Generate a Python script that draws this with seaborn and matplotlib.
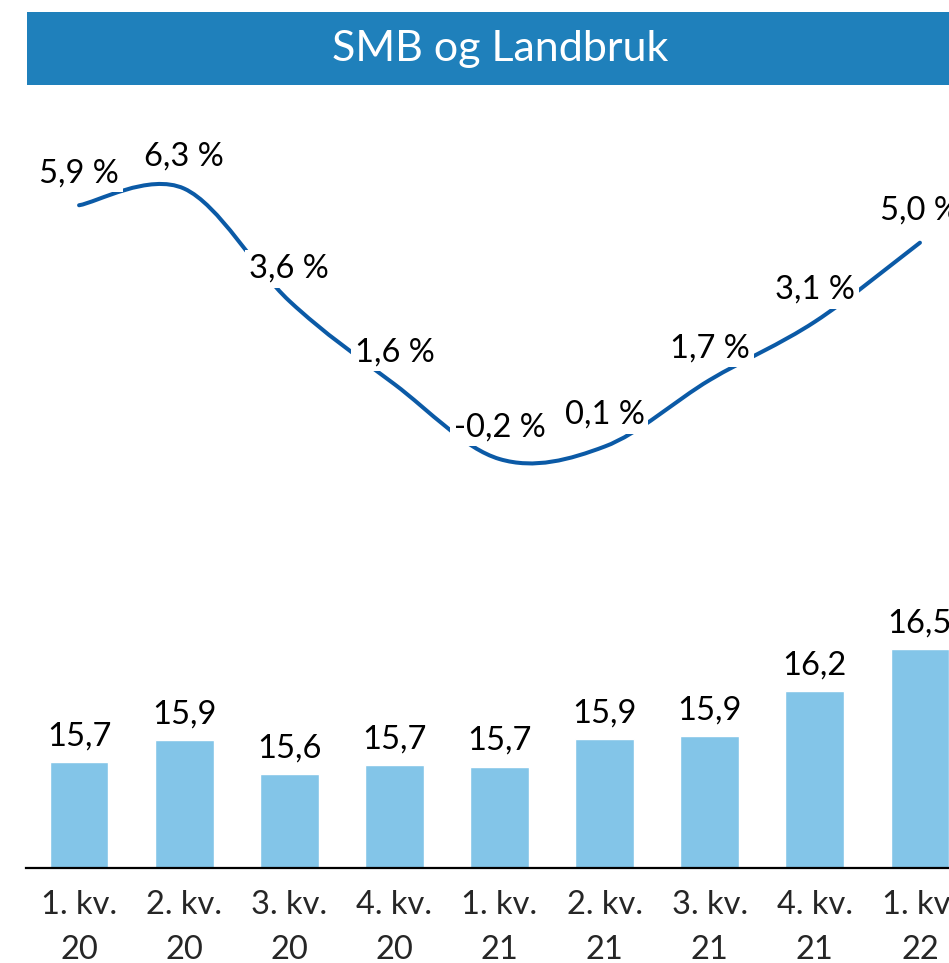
import matplotlib
matplotlib.use("Agg")
import matplotlib.pyplot as plt
import seaborn as sns
from matplotlib.path import Path
from matplotlib.patches import PathPatch, Rectangle

# Data
quarters = ["1. kv.\n20", "2. kv.\n20", "3. kv.\n20", "4. kv.\n20",
            "1. kv.\n21", "2. kv.\n21", "3. kv.\n21", "4. kv.\n21", "1. kv.\n22"]
volume = [15.71, 15.86, 15.63, 15.69, 15.68, 15.87, 15.89, 16.20, 16.49]
growth = [5.9, 6.3, 3.6, 1.6, -0.2, 0.1, 1.7, 3.1, 5.0]

BAR_COLOR = "#83C5E8"
LINE_COLOR = "#0B5AA6"
TITLE_BG = "#1F80BB"

sns.set_style("white")
plt.rcParams["font.family"] = ["Lato", "DejaVu Sans"]

W, H = 949, 963
fig = plt.figure(figsize=(W / 100, H / 100), dpi=100)

# axes extends past the right edge of the picture (chart is cropped)
left_px, right_px, top_px, base_px = 26.5, 972.5, 100, 868
ax = fig.add_axes([left_px / W, (H - base_px) / H,
                   (right_px - left_px) / W, (base_px - top_px) / H])

sns.barplot(x=list(range(len(quarters))), y=volume, color=BAR_COLOR,
            width=0.56, saturation=1, ax=ax, zorder=2)
ax.set_xlim(-0.5, len(quarters) - 0.5)
ax.set_ylim(14.98, 14.98 + (base_px - top_px) / 145)

FS = 23.5
for i, v in enumerate(volume):
    ax.annotate(f"{v:.1f}".replace(".", ","), (i, v), xytext=(0, 18.5),
                textcoords="offset points", ha="center", va="center",
                fontsize=FS, color="black")

ax.set_xticks(range(len(quarters)))
ax.set_xticklabels(quarters, fontsize=FS, linespacing=1.62)
ax.tick_params(axis="x", length=0, pad=16)
ax.set_yticks([])
ax.set_xlabel("")
ax.set_ylabel("")
for s in ["top", "left", "right"]:
    ax.spines[s].set_visible(False)
ax.spines["bottom"].set_color("black")
ax.spines["bottom"].set_linewidth(1.6)

# growth line on a secondary axis, smoothed like the spreadsheet chart
ax2 = ax.twinx()
ax2.set_ylim(-10.03, 8.43)
ax2.set_yticks([])
for s in ax2.spines.values():
    s.set_visible(False)

pts = list(enumerate(growth))
n = len(pts)
verts = [pts[0]]
codes = [Path.MOVETO]
for i in range(n - 1):
    p0 = pts[max(i - 1, 0)]
    p1 = pts[i]
    p2 = pts[i + 1]
    p3 = pts[min(i + 2, n - 1)]
    c1 = (p1[0] + (p2[0] - p0[0]) / 6, p1[1] + (p2[1] - p0[1]) / 6)
    c2 = (p2[0] - (p3[0] - p1[0]) / 6, p2[1] - (p3[1] - p1[1]) / 6)
    verts += [c1, c2, p2]
    codes += [Path.CURVE4] * 3
ax2.add_patch(PathPatch(Path(verts, codes), fill=False, edgecolor=LINE_COLOR,
                        linewidth=2.9, capstyle="round", zorder=3))

for i, g in enumerate(growth):
    ax2.annotate(f"{g:.1f} %".replace(".", ","), (i, g), xytext=(0, 23),
                 textcoords="offset points", ha="center", va="center",
                 fontsize=FS, color="black", zorder=5,
                 bbox=dict(boxstyle="square,pad=0.12", fc="white", ec="none"))

# title banner
fig.patches.append(Rectangle((27 / W, (H - 85) / H), (right_px - 27) / W, 73 / H,
                             transform=fig.transFigure, facecolor=TITLE_BG,
                             edgecolor="none", zorder=0))
fig.text((27 + right_px) / 2 / W, 1 - 49 / H, "SMB og Landbruk", color="white",
         fontsize=31, ha="center", va="center")

fig.savefig("out.png", dpi=100)
